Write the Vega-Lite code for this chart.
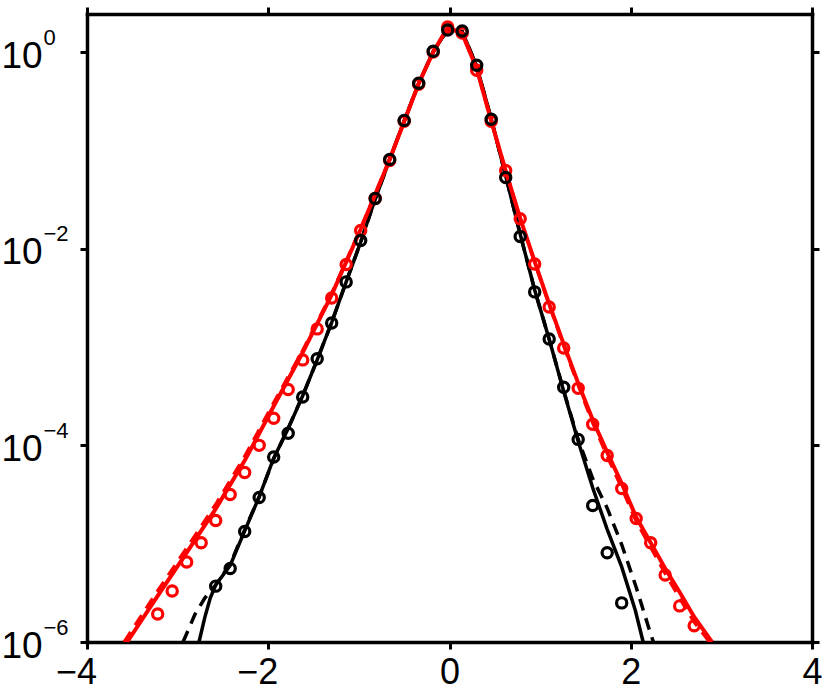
{
  "$schema": "https://vega.github.io/schema/vega-lite/v6.json",
  "width": 725,
  "height": 628,
  "autosize": {"type": "none"},
  "padding": {"left": 87, "top": 14, "right": 18, "bottom": 51},
  "background": "white",
  "config": {
    "view": {"stroke": null},
    "axis": {
      "grid": false,
      "domainColor": "black",
      "domainWidth": 3.5,
      "domainCap": "square",
      "tickColor": "black",
      "tickWidth": 3,
      "tickSize": 7,
      "labelColor": "black",
      "labelFont": "Liberation Sans",
      "labelFlush": false,
      "labelBound": false,
      "labelOverlap": false
    }
  },
  "datasets": {
    "blackSolid": [
      {"x": -2.764, "y": 1e-6}, {"x": -2.70, "y": 1.78e-6}, {"x": -2.64, "y": 2.8e-6}, {"x": -2.58, "y": 3.8e-6},
      {"x": -2.42, "y": 6.0e-6}, {"x": -2.26, "y": 1.35e-5}, {"x": -2.10, "y": 3.0e-5}, {"x": -1.94, "y": 7.4e-5},
      {"x": -1.78, "y": 1.48e-4}, {"x": -1.62, "y": 3.2e-4}, {"x": -1.46, "y": 7.4e-4}, {"x": -1.30, "y": 1.78e-3},
      {"x": -1.14, "y": 4.6e-3}, {"x": -0.98, "y": 0.0117}, {"x": -0.82, "y": 0.032}, {"x": -0.66, "y": 0.081},
      {"x": -0.50, "y": 0.20}, {"x": -0.34, "y": 0.48}, {"x": -0.18, "y": 1.01}, {"x": -0.02, "y": 1.70},
      {"x": 0.14, "y": 1.62}, {"x": 0.30, "y": 0.72}, {"x": 0.46, "y": 0.21}, {"x": 0.62, "y": 0.055},
      {"x": 0.78, "y": 0.0141}, {"x": 0.94, "y": 3.8e-3}, {"x": 1.10, "y": 1.2e-3}, {"x": 1.26, "y": 3.55e-4},
      {"x": 1.42, "y": 1.1e-4}, {"x": 1.58, "y": 3.7e-5}, {"x": 1.74, "y": 1.4e-5}, {"x": 1.90, "y": 5.8e-6},
      {"x": 2.05, "y": 2.1e-6}, {"x": 2.137, "y": 1e-6}
    ],
    "blackDashed": [
      {"x": -2.94, "y": 1e-6}, {"x": -2.81, "y": 1.9e-6}, {"x": -2.70, "y": 2.8e-6}, {"x": -2.58, "y": 3.8e-6},
      {"x": -2.42, "y": 6.2e-6}, {"x": -2.26, "y": 1.38e-5}, {"x": -2.10, "y": 3.0e-5}, {"x": -1.94, "y": 7.3e-5},
      {"x": -1.78, "y": 1.5e-4}, {"x": -1.62, "y": 3.2e-4}, {"x": -1.46, "y": 7.4e-4}, {"x": -1.30, "y": 1.78e-3},
      {"x": -1.14, "y": 4.6e-3}, {"x": -0.98, "y": 0.0117}, {"x": -0.82, "y": 0.032}, {"x": -0.66, "y": 0.081},
      {"x": -0.50, "y": 0.20}, {"x": -0.34, "y": 0.48}, {"x": -0.18, "y": 1.01}, {"x": -0.02, "y": 1.70},
      {"x": 0.14, "y": 1.62}, {"x": 0.30, "y": 0.72}, {"x": 0.46, "y": 0.21}, {"x": 0.62, "y": 0.055},
      {"x": 0.78, "y": 0.0141}, {"x": 0.94, "y": 3.8e-3}, {"x": 1.10, "y": 1.2e-3}, {"x": 1.26, "y": 3.6e-4},
      {"x": 1.42, "y": 1.15e-4}, {"x": 1.58, "y": 4.6e-5}, {"x": 1.74, "y": 2.3e-5}, {"x": 1.90, "y": 9.8e-6},
      {"x": 2.06, "y": 3.6e-6}, {"x": 2.20, "y": 1.38e-6}, {"x": 2.25, "y": 1e-6}
    ],
    "redSolid": [
      {"x": -3.557, "y": 1e-6}, {"x": -3.22, "y": 2.95e-6}, {"x": -2.90, "y": 8.1e-6}, {"x": -2.58, "y": 2.26e-5},
      {"x": -2.26, "y": 7.0e-5}, {"x": -1.94, "y": 2.5e-4}, {"x": -1.62, "y": 8.8e-4}, {"x": -1.30, "y": 3.4e-3},
      {"x": -0.98, "y": 0.0158}, {"x": -0.66, "y": 0.081}, {"x": -0.34, "y": 0.48}, {"x": -0.18, "y": 1.0},
      {"x": -0.02, "y": 1.78}, {"x": 0.14, "y": 1.55}, {"x": 0.30, "y": 0.68}, {"x": 0.46, "y": 0.20},
      {"x": 0.62, "y": 0.062}, {"x": 0.78, "y": 0.0204}, {"x": 0.94, "y": 7.4e-3}, {"x": 1.10, "y": 2.75e-3},
      {"x": 1.26, "y": 1.07e-3}, {"x": 1.42, "y": 4.3e-4}, {"x": 1.58, "y": 1.82e-4}, {"x": 1.74, "y": 8.5e-5},
      {"x": 1.90, "y": 4.1e-5}, {"x": 2.06, "y": 1.86e-5}, {"x": 2.22, "y": 1.02e-5}, {"x": 2.38, "y": 5.6e-6},
      {"x": 2.54, "y": 3.2e-6}, {"x": 2.70, "y": 1.8e-6}, {"x": 2.896, "y": 1e-6}
    ],
    "redDashed": [
      {"x": -3.59, "y": 1e-6}, {"x": -3.22, "y": 3.3e-6}, {"x": -2.90, "y": 9.0e-6}, {"x": -2.58, "y": 2.5e-5},
      {"x": -2.26, "y": 7.7e-5}, {"x": -1.94, "y": 2.7e-4}, {"x": -1.62, "y": 9.2e-4}, {"x": -1.30, "y": 3.5e-3},
      {"x": -0.98, "y": 0.016}, {"x": -0.66, "y": 0.081}, {"x": -0.34, "y": 0.48}, {"x": -0.18, "y": 1.0},
      {"x": -0.02, "y": 1.78}, {"x": 0.14, "y": 1.55}, {"x": 0.30, "y": 0.68}, {"x": 0.46, "y": 0.20},
      {"x": 0.62, "y": 0.062}, {"x": 0.78, "y": 0.0204}, {"x": 0.94, "y": 7.3e-3}, {"x": 1.10, "y": 2.7e-3},
      {"x": 1.26, "y": 1.03e-3}, {"x": 1.42, "y": 4.1e-4}, {"x": 1.58, "y": 1.7e-4}, {"x": 1.74, "y": 7.8e-5},
      {"x": 1.90, "y": 3.7e-5}, {"x": 2.06, "y": 1.7e-5}, {"x": 2.22, "y": 9.2e-6}, {"x": 2.38, "y": 5.0e-6},
      {"x": 2.54, "y": 2.8e-6}, {"x": 2.70, "y": 1.6e-6}, {"x": 2.87, "y": 1e-6}
    ],
    "redPts": [
      {"x": -3.22, "y": 1.93e-6}, {"x": -3.06, "y": 3.3e-6}, {"x": -2.90, "y": 6.5e-6}, {"x": -2.74, "y": 1.02e-5},
      {"x": -2.58, "y": 1.72e-5}, {"x": -2.42, "y": 3.16e-5}, {"x": -2.26, "y": 5.3e-5}, {"x": -2.10, "y": 1.0e-4},
      {"x": -1.94, "y": 1.89e-4}, {"x": -1.78, "y": 3.7e-4}, {"x": -1.62, "y": 7.4e-4}, {"x": -1.46, "y": 1.53e-3},
      {"x": -1.30, "y": 3.16e-3}, {"x": -1.14, "y": 6.9e-3}, {"x": -0.98, "y": 0.0153}, {"x": -0.82, "y": 0.0324},
      {"x": -0.66, "y": 0.079}, {"x": -0.50, "y": 0.198}, {"x": -0.34, "y": 0.471}, {"x": -0.18, "y": 1.0},
      {"x": -0.02, "y": 1.80}, {"x": 0.14, "y": 1.56}, {"x": 0.30, "y": 0.655}, {"x": 0.46, "y": 0.198},
      {"x": 0.62, "y": 0.0625}, {"x": 0.78, "y": 0.0202}, {"x": 0.94, "y": 7.0e-3}, {"x": 1.10, "y": 2.56e-3},
      {"x": 1.26, "y": 9.8e-4}, {"x": 1.42, "y": 3.8e-4}, {"x": 1.58, "y": 1.64e-4}, {"x": 1.74, "y": 7.9e-5},
      {"x": 1.90, "y": 3.64e-5}, {"x": 2.06, "y": 1.8e-5}, {"x": 2.22, "y": 1.02e-5}, {"x": 2.38, "y": 4.8e-6},
      {"x": 2.54, "y": 2.33e-6}, {"x": 2.70, "y": 1.46e-6}
    ],
    "blackPts": [
      {"x": -2.58, "y": 3.7e-6}, {"x": -2.42, "y": 5.6e-6}, {"x": -2.26, "y": 1.33e-5}, {"x": -2.10, "y": 2.95e-5},
      {"x": -1.94, "y": 7.6e-5}, {"x": -1.78, "y": 1.33e-4}, {"x": -1.62, "y": 3.1e-4}, {"x": -1.46, "y": 7.6e-4},
      {"x": -1.30, "y": 1.76e-3}, {"x": -1.14, "y": 4.6e-3}, {"x": -0.98, "y": 0.0121}, {"x": -0.82, "y": 0.0324},
      {"x": -0.66, "y": 0.081}, {"x": -0.50, "y": 0.202}, {"x": -0.34, "y": 0.483}, {"x": -0.18, "y": 1.02},
      {"x": -0.02, "y": 1.68}, {"x": 0.14, "y": 1.64}, {"x": 0.30, "y": 0.736}, {"x": 0.46, "y": 0.207},
      {"x": 0.62, "y": 0.053}, {"x": 0.78, "y": 0.0133}, {"x": 0.94, "y": 3.64e-3}, {"x": 1.10, "y": 1.21e-3},
      {"x": 1.26, "y": 3.9e-4}, {"x": 1.42, "y": 1.15e-4}, {"x": 1.58, "y": 2.44e-5}, {"x": 1.74, "y": 8.1e-6},
      {"x": 1.90, "y": 2.5e-6}
    ]
  },
  "layer": [
    {
      "data": {"name": "blackSolid"},
      "mark": {"type": "line", "color": "black", "strokeWidth": 3.5, "clip": true},
      "encoding": {
        "x": {"field": "x", "type": "quantitative", "scale": {"domain": [-4, 4], "nice": false, "zero": false},
          "axis": {"orient": "bottom", "title": null, "values": [-4, -2, 0, 2, 4], "labelFontSize": 36, "labelPadding": 6,
            "labelOffset": {"condition": {"test": "datum.value < 0", "value": -11}, "value": 0}}},
        "y": {"field": "y", "type": "quantitative", "scale": {"type": "log", "domain": [1e-6, 2.44], "nice": false},
          "axis": {"orient": "left", "title": null, "values": [1e-6, 1e-4, 1e-2, 1], "labelExpr": "'10'",
            "labelFontSize": 37, "labelAlign": "left", "labelBaseline": "middle", "labelPadding": 79, "labelOffset": 4}}
      }
    },
    {
      "data": {"name": "blackDashed"},
      "mark": {"type": "line", "color": "black", "strokeWidth": 3.5, "strokeDash": [12, 8], "clip": true},
      "encoding": {
        "x": {"field": "x", "type": "quantitative", "scale": {"domain": [-4, 4], "nice": false, "zero": false},
          "axis": {"orient": "top", "title": null, "values": [-4, -2, 0, 2, 4], "labels": false}},
        "y": {"field": "y", "type": "quantitative", "scale": {"type": "log", "domain": [1e-6, 2.44], "nice": false},
          "axis": {"orient": "right", "title": null, "values": [1e-6, 1e-4, 1e-2, 1], "labels": false}}
      }
    },
    {
      "data": {"name": "redSolid"},
      "mark": {"type": "line", "color": "#ff0000", "strokeWidth": 4, "clip": true},
      "encoding": {
        "x": {"field": "x", "type": "quantitative", "scale": {"domain": [-4, 4], "nice": false, "zero": false}, "axis": null},
        "y": {"field": "y", "type": "quantitative", "scale": {"type": "log", "domain": [1e-6, 2.44], "nice": false},
          "axis": {"orient": "left", "title": null, "values": [1e-6, 1e-4, 1e-2, 1], "domain": false, "ticks": false, "tickSize": 0,
            "labelExpr": "format(round(log(datum.value)/LN10), 'd')",
            "labelFontSize": 22, "labelAlign": "left", "labelBaseline": "middle", "labelPadding": 44, "labelOffset": -15}}
      }
    },
    {
      "data": {"name": "redDashed"},
      "mark": {"type": "line", "color": "#ff0000", "strokeWidth": 3.5, "strokeDash": [12, 8], "clip": true},
      "encoding": {
        "x": {"field": "x", "type": "quantitative", "scale": {"domain": [-4, 4], "nice": false, "zero": false}, "axis": null},
        "y": {"field": "y", "type": "quantitative", "scale": {"type": "log", "domain": [1e-6, 2.44], "nice": false}, "axis": null}
      }
    },
    {
      "data": {"name": "redPts"},
      "mark": {"type": "point", "shape": "circle", "filled": false, "color": "#ff0000", "strokeWidth": 3.2, "size": 105, "opacity": 1, "clip": true},
      "encoding": {
        "x": {"field": "x", "type": "quantitative", "scale": {"domain": [-4, 4], "nice": false, "zero": false}, "axis": null},
        "y": {"field": "y", "type": "quantitative", "scale": {"type": "log", "domain": [1e-6, 2.44], "nice": false}, "axis": null}
      }
    },
    {
      "data": {"name": "blackPts"},
      "mark": {"type": "point", "shape": "circle", "filled": false, "color": "black", "strokeWidth": 3.2, "size": 105, "opacity": 1, "clip": true},
      "encoding": {
        "x": {"field": "x", "type": "quantitative", "scale": {"domain": [-4, 4], "nice": false, "zero": false}, "axis": null},
        "y": {"field": "y", "type": "quantitative", "scale": {"type": "log", "domain": [1e-6, 2.44], "nice": false}, "axis": null}
      }
    }
  ],
  "resolve": {"axis": {"x": "independent", "y": "independent"}}
}
